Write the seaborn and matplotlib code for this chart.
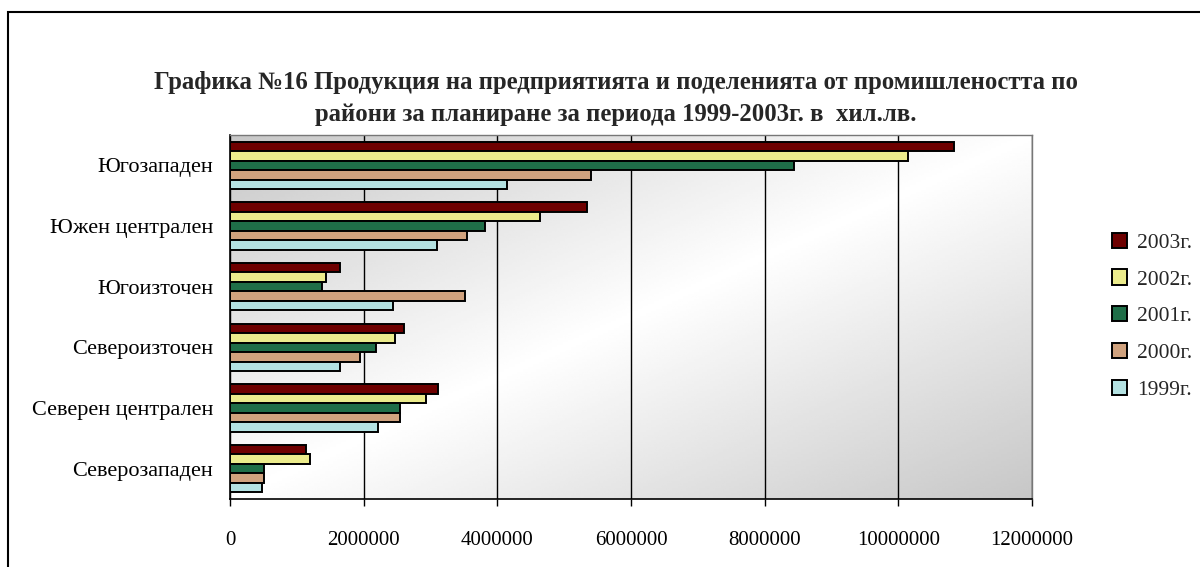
import numpy as np
import pandas as pd
import seaborn as sns
import matplotlib.pyplot as plt
from matplotlib.patches import Rectangle, Patch

# Данни (хил. лв.)
regions = ['Югозападен', 'Южен централен', 'Югоизточен',
           'Североизточен', 'Северен централен', 'Северозападен']
years = ['2003г.', '2002г.', '2001г.', '2000г.', '1999г.']
v2003 = [10830000, 5340000, 1645000, 2600000, 3110000, 1140000]
v2002 = [10140000, 4640000, 1430000, 2470000, 2930000, 1200000]
v2001 = [8440000, 3810000, 1380000, 2180000, 2540000, 510000]
v2000 = [5400000, 3550000, 3520000, 1940000, 2540000, 510000]
v1999 = [4140000, 3100000, 2440000, 1640000, 2220000, 480000]
colors = ['#6e0000', '#ecec8c', '#1f6e48', '#d0a27e', '#b4e2e2']

series = [v2003, v2002, v2001, v2000, v1999]
rows = []
for y, vals in zip(years, series):
    for r, v in zip(regions, vals):
        rows.append({'region': r, 'year': y, 'value': v})
df = pd.DataFrame(rows)

sns.set_style('white')
plt.rcParams['font.family'] = ['Liberation Serif', 'DejaVu Serif']

fig = plt.figure(figsize=(12, 5.67), dpi=100)
pos = [230 / 1200, 1 - 499 / 567, (1032 - 230) / 1200, (499 - 135) / 567]

# фон с градиент
bg = fig.add_axes(pos, zorder=0)
xx, yy = np.meshgrid(np.linspace(0, 1, 300), np.linspace(1, 0, 150))
t = (xx + (1 - yy)) / 2
grad = 1 - 0.22 * np.abs(t - 0.5) * 2
bg.imshow(grad, cmap='gray', vmin=0, vmax=1, extent=[0, 1, 0, 1], aspect='auto')
bg.axis('off')

ax = fig.add_axes(pos, zorder=1)
ax.patch.set_alpha(0)
sns.barplot(data=df, y='region', x='value', hue='year', order=regions,
            hue_order=years, palette=colors, saturation=1, edgecolor='black',
            linewidth=1.4, width=0.78, orient='h', ax=ax)

ax.set_xlim(0, 12000000)
ax.set_xticks(range(0, 12000001, 2000000))
ax.set_xticklabels([str(v) for v in range(0, 12000001, 2000000)])
ax.xaxis.grid(True, color='black', linewidth=1)
ax.set_axisbelow(True)
ax.set_xlabel('')
ax.set_ylabel('')
ax.tick_params(axis='x', labelsize=15, colors='black', direction='out',
               length=5, width=1, bottom=True, pad=18)
ax.tick_params(axis='y', labelsize=16, colors='black', length=0, pad=12)
for s in ['left', 'bottom']:
    ax.spines[s].set_color('black')
    ax.spines[s].set_linewidth(1.2)
for s in ['top', 'right']:
    ax.spines[s].set_color('#777777')
    ax.spines[s].set_linewidth(1.0)

ax.get_legend().remove()
handles = [Patch(facecolor=c, edgecolor='black', linewidth=1.4) for c in colors]
fig.legend(handles, years, loc='center left', bbox_to_anchor=(1112 / 1200, 0.442),
           frameon=False, fontsize=15.5, handlelength=0.7, handleheight=0.7,
           handletextpad=0.45, labelspacing=0.78, borderpad=0, borderaxespad=0)

fig.text(0.513, 0.826,
         'Графика №16 Продукция на предприятията и поделенията от промишлеността по\n'
         'райони за планиране за периода 1999-2003г. в  хил.лв.',
         ha='center', va='center', fontsize=17.8, fontweight='bold', linespacing=1.5)

fig.patches.append(Rectangle((8 / 1200, -0.1), 1.1, 1.1 - 12 / 567,
                             transform=fig.transFigure, fill=False,
                             edgecolor='black', linewidth=1.5))

plt.savefig('out.png', dpi=100)
